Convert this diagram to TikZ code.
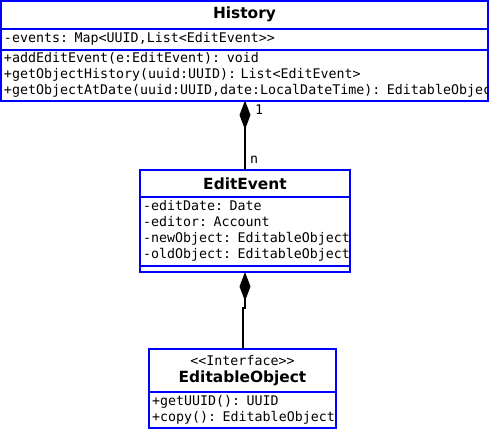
\documentclass[tikz,border=0pt]{standalone}
\usepackage{fontspec}
\newfontfamily\umlsans{DejaVu Sans}
\newfontfamily\umlmono{DejaVu Sans Mono}
\usetikzlibrary{arrows.meta,positioning}
\definecolor{umlblue}{HTML}{0000FF}
\tikzset{
  titlebox/.style = {draw=umlblue, line width=2pt, outer sep=0pt, inner sep=0pt,
                     align=center, font=\umlsans\fontsize{15.4}{17}\selectfont\bfseries},
  partbox/.style  = {draw=umlblue, line width=2pt, outer sep=0pt, inner xsep=3pt,
                     inner ysep=0pt, align=left, font=\umlmono\fontsize{13.3}{16}\selectfont},
  comp/.style     = {{Diamond[length=29pt,width=11pt]}-, line width=2pt},
  mult/.style     = {inner sep=0pt, font=\umlmono\fontsize{13.3}{16}\selectfont},
}
\begin{document}
\begin{tikzpicture}[x=1pt,y=-1pt]
    \fill[white] (0,0) rectangle (489,429);
    \useasboundingbox (0,0) rectangle (489,429);
    % History
    \node[titlebox,minimum width=487pt,minimum height=27.5pt] (hist) at (244.5,14.75) {History};
    \node[partbox,below=0pt of hist,text width=481pt,minimum height=21pt] (histattr)
        {\mbox{-events: Map<UUID,List<EditEvent>>}};
    \node[partbox,below=0pt of histattr,text width=481pt,minimum height=51pt] (histops)
        {\mbox{+addEditEvent(e:EditEvent): void}\\
         \mbox{+getObjectHistory(uuid:UUID): List<EditEvent>}\\
         \mbox{+getObjectAtDate(uuid:UUID,date:LocalDateTime): EditableObjec}};
    % EditEvent
    \node[titlebox,minimum width=210pt,minimum height=27pt] (ee) at (245,183.5) {EditEvent};
    \node[partbox,below=0pt of ee,text width=204pt,minimum height=68.5pt] (eeattr)
        {\mbox{-editDate: Date}\\
         \mbox{-editor: Account}\\
         \mbox{-newObject: EditableObject}\\
         \mbox{-oldObject: EditableObject}};
    \node[partbox,below=0pt of eeattr,text width=204pt,minimum height=6.5pt] (eeops) {};
    % EditableObject
    \node[titlebox,minimum width=187pt,minimum height=43pt] (eo) at (242.5,370.5)
        {{\umlmono\mdseries\fontsize{13.3}{16}\selectfont <<Interface>>}\\EditableObject};
    \node[partbox,below=0pt of eo,text width=181pt,minimum height=36pt] (eoops)
        {\mbox{+getUUID(): UUID}\\
         \mbox{+copy(): EditableObject}};
    % compositions
    \draw[comp] (histops.south -| ee.north) -- (ee.north);
    \draw[comp] (eeops.south) -- ++(0,36) -| (eo.north);
    \node[mult] (m1) at (259,110) {1};
    \node[mult] (mn) at (254,160) {n};
\end{tikzpicture}
\end{document}
